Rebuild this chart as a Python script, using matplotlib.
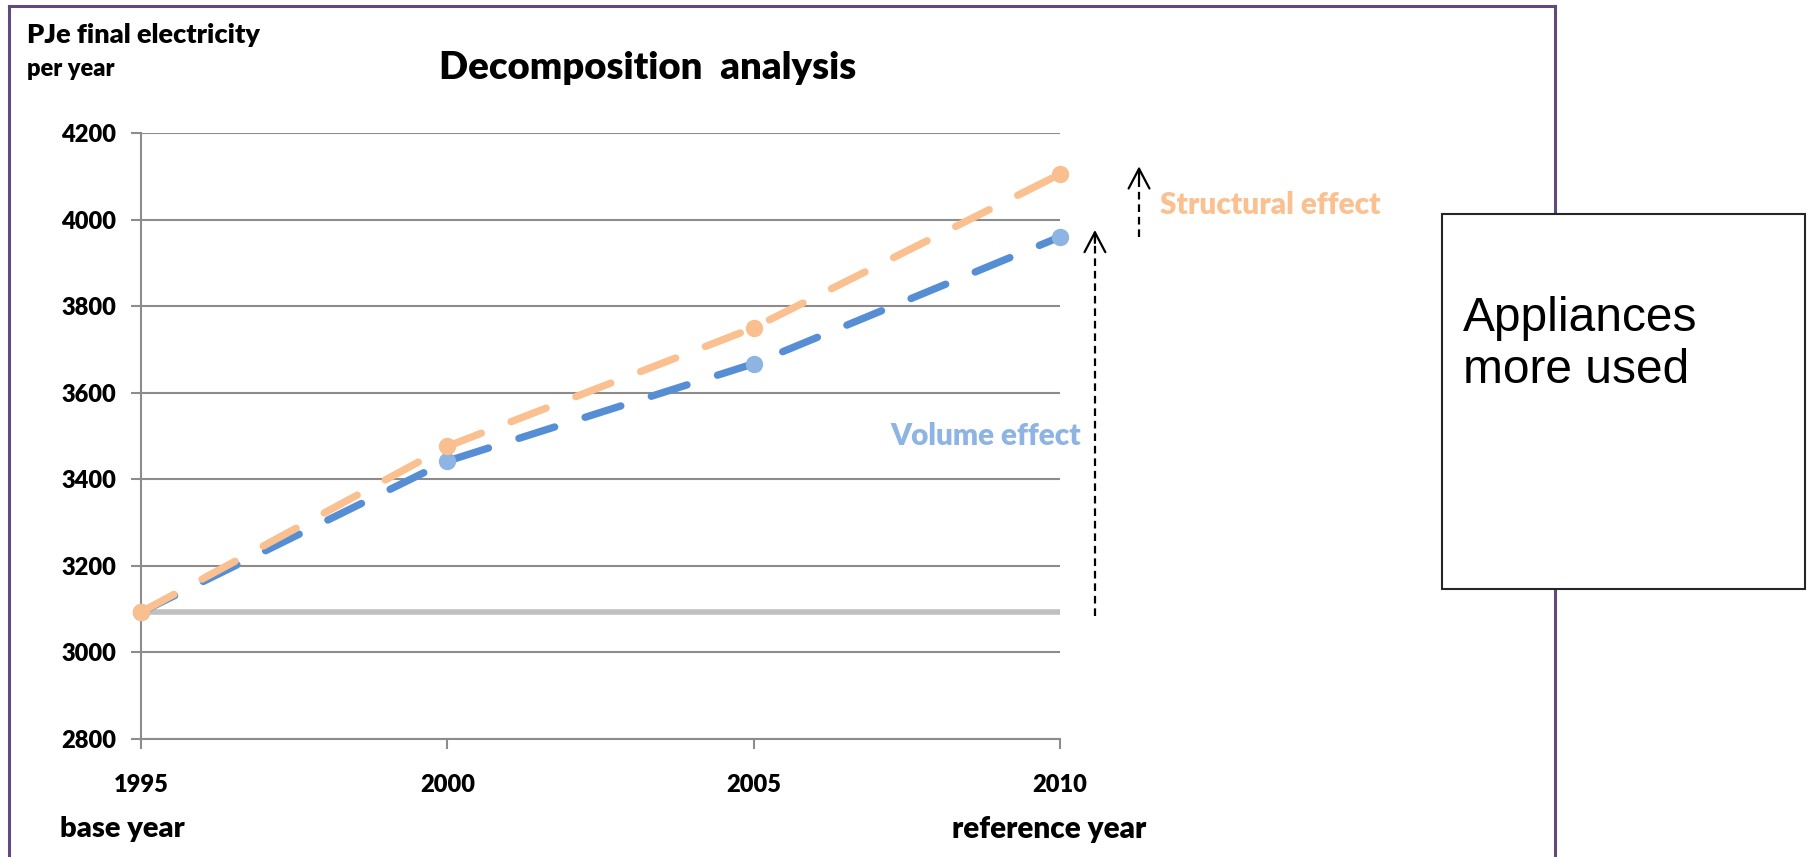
import matplotlib
matplotlib.use("Agg")
import matplotlib.pyplot as plt
from matplotlib.lines import Line2D
from matplotlib.patches import Rectangle

# ---- data -------------------------------------------------------------
years = [1995, 2000, 2005, 2010]
volume_effect = [3093, 3442, 3667, 3960]       # blue series
structural_effect = [3093, 3476, 3750, 4105]   # orange series
base_level = [3093, 3093, 3093, 3093]          # base-year consumption
y_ticks = [2800, 3000, 3200, 3400, 3600, 3800, 4000, 4200]

# ---- styling ----------------------------------------------------------
W, H = 1810, 857
BOLD = dict(family="Lato", fontweight="heavy")
GRID = "#8c8c8c"
BLUE_LINE, BLUE_MARK = "#558ed5", "#8db4e2"
ORANGE_LINE, ORANGE_MARK = "#fac090", "#f9bf8e"
PURPLE = "#604a7b"

plt.rcParams["lines.scale_dashes"] = False


def fx(px):
    return px / W


def fy(py):
    return 1 - py / H


fig = plt.figure(figsize=(W / 100, H / 100), dpi=100)
fig.patch.set_facecolor("white")

ax = fig.add_axes([fx(141), fy(739), fx(1060) - fx(141), fy(133) - fy(739)])
ax.set_xlim(1995, 2010)
ax.set_ylim(2800, 4200)
ax.set_yticks(y_ticks)
ax.set_xticks(years)
ax.set_yticklabels([str(t) for t in y_ticks], **BOLD, fontsize=17)
ax.set_xticklabels([str(t) for t in years], **BOLD, fontsize=17)
ax.tick_params(axis="y", length=7, width=1.5, color=GRID, pad=11)
ax.tick_params(axis="x", length=7, width=1.5, color=GRID, pad=18)
for side in ("top", "right"):
    ax.spines[side].set_visible(False)
for side in ("left", "bottom"):
    ax.spines[side].set_color(GRID)
    ax.spines[side].set_linewidth(1.5)
ax.yaxis.grid(True, color=GRID, linewidth=1.5)
ax.set_axisbelow(True)

# base-year reference line
ax.plot(years, base_level, color="#bfbfbf", linewidth=4, solid_capstyle="butt",
        zorder=2)

dash = (0, (27, 23))
ax.plot(years, volume_effect, color=BLUE_LINE, linewidth=5.3, linestyle=dash,
        dash_capstyle="round", zorder=3, clip_on=False)
ax.plot(years, volume_effect, linestyle="none", marker="o", markersize=11.5,
        markerfacecolor=BLUE_MARK, markeredgecolor=BLUE_MARK, zorder=3.5,
        clip_on=False)
ax.plot(years, structural_effect, color=ORANGE_LINE, linewidth=5.3,
        linestyle=dash, dash_capstyle="round", zorder=4, clip_on=False)
ax.plot(years, structural_effect, linestyle="none", marker="o",
        markersize=11.5, markerfacecolor=ORANGE_MARK,
        markeredgecolor=ORANGE_MARK, zorder=4.5, clip_on=False)


# dashed arrows showing each effect
def effect_arrow(x, y0, y1):
    ax.plot([x, x], [y0, y1 - 12], color="black", linewidth=1.6,
            linestyle=(0, (5.5, 3.5)), clip_on=False, zorder=5)
    ax.annotate("", xy=(x, y1), xytext=(x, y1 - 30),
                arrowprops=dict(arrowstyle="->,head_length=0.95,head_width=0.5",
                                color="black", lw=1.6, mutation_scale=15,
                                shrinkA=0, shrinkB=0),
                annotation_clip=False, zorder=5)


effect_arrow(2010.57, base_level[-1] - 8, volume_effect[-1] + 16)
effect_arrow(2011.29, volume_effect[-1], structural_effect[-1] + 18)

ax.text(2010.34, 3500, "Volume effect", color=BLUE_MARK, ha="right",
        va="center", fontsize=21.4, **BOLD)
fig.text(fx(1160), fy(205), "Structural effect", color=ORANGE_LINE,
         ha="left", va="center", fontsize=21.5, **BOLD)

# titles and labels
fig.text(fx(648), fy(68), "Decomposition  analysis", ha="center",
         va="center", fontsize=27.5, **BOLD)
fig.text(fx(27), fy(35), "PJe final electricity", ha="left", va="center",
         fontsize=19.5, **BOLD)
fig.text(fx(27), fy(69), "per year", ha="left", va="center", fontsize=17,
         **BOLD)
fig.text(fx(60), fy(829), "base year", ha="left", va="center", fontsize=21,
         **BOLD)
fig.text(fx(952), fy(829), "reference year", ha="left", va="center",
         fontsize=21.3, **BOLD)

# chart frame (open at the bottom)
frame = dict(color=PURPLE, linewidth=2.2, transform=fig.transFigure)
fig.add_artist(Line2D([fx(9), fx(9)], [fy(6), -0.05], **frame))
fig.add_artist(Line2D([fx(9), fx(1555)], [fy(6), fy(6)], **frame))
fig.add_artist(Line2D([fx(1555), fx(1555)], [fy(6), -0.05], **frame))

# side note box
box = Rectangle((fx(1442), fy(589)), fx(1805) - fx(1442), fy(214) - fy(589),
                transform=fig.transFigure, facecolor="white",
                edgecolor="#262626", linewidth=1.5, zorder=10)
fig.add_artist(box)
fig.text(fx(1463), fy(296), "Appliances\nmore used", ha="left", va="top",
         fontsize=34.5, family="Liberation Sans", linespacing=1.2, zorder=11)

fig.savefig("out.png", dpi=100, facecolor="white")
